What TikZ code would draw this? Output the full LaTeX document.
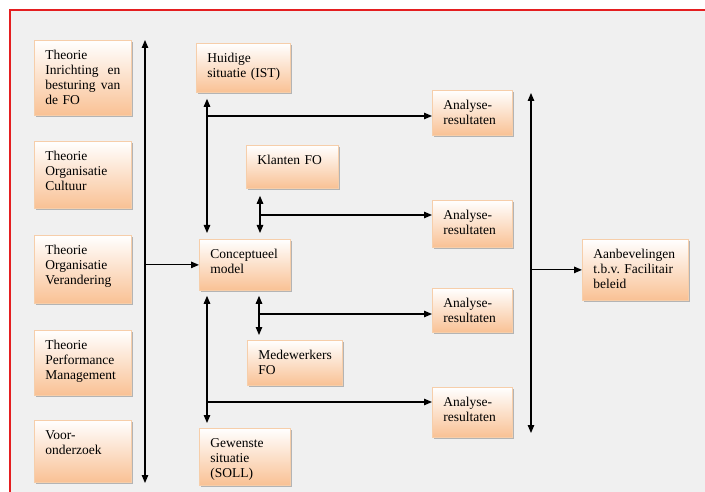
\documentclass[tikz,border=0pt]{standalone}
\usepackage{fontspec}
\setmainfont{Liberation Serif}
\usetikzlibrary{arrows.meta,shadows}
\definecolor{peach}{RGB}{249,193,148}
\definecolor{peachline}{RGB}{246,206,170}
\definecolor{frame}{RGB}{228,30,32}
\definecolor{paper}{RGB}{240,240,240}
\tikzset{
  box/.style={draw=peachline, line width=0.8pt, top color=white, bottom color=peach,
    drop shadow={shadow xshift=2pt, shadow yshift=-2pt, fill=black!45, opacity=0.6},
    anchor=north west, align=left, inner xsep=11pt, inner ysep=2pt,
    text height=17pt, font=\fontsize{13.5}{15}\selectfont\frenchspacing},
  link/.style={line width=1.2pt, {Triangle[length=8pt,width=6.5pt]}-{Triangle[length=8pt,width=6.5pt]}},
  to/.style={line width=1.2pt, -{Triangle[length=8pt,width=6.5pt]}}
}
\begin{document}
\begin{tikzpicture}[x=1pt,y=-1pt]
  \useasboundingbox (0,0) rectangle (705,492);
  \fill[white] (0,0) rectangle (705,492);
  \fill[paper] (10,10) rectangle (705,492);
  \draw[frame, line width=2pt] (10,492) -- (10,10) -- (705,10);
  % theorie
  \node[box, text width=75pt, text depth=54pt] (inr) at (34,40) {Theorie\\Inrichting\hfill en\\besturing\hfill van\\de FO};
  \node[box, text width=75pt, text depth=46pt] (cult) at (34,141) {Theorie\\Organisatie\\Cultuur};
  \node[box, text width=75pt, text depth=47pt] (ver) at (34,235) {Theorie\\Organisatie\\Verandering};
  \node[box, text width=75pt, text depth=44pt] (perf) at (34,330) {Theorie\\Performance\\Management};
  \node[box, text width=75pt, text depth=41pt] (voor) at (34,420) {Voor-\\onderzoek};
  % model
  \node[box, text width=72pt, text depth=28pt] (ist) at (196,43) {Huidige\\situatie~(IST)};
  \node[box, text width=70pt, text depth=22pt] (klant) at (246,145) {Klanten FO};
  \node[box, text width=69pt, text depth=30pt] (model) at (199,239) {Conceptueel\\model};
  \node[box, text width=73pt, text depth=24pt] (medew) at (247,340) {Medewerkers\\FO};
  \node[box, text width=69pt, text depth=36pt] (soll) at (199,428) {Gewenste\\situatie\\(SOLL)};
  % analyse
  \node[box, text width=58pt, text depth=24pt] (res1) at (432,90) {Analyse-\\resultaten};
  \node[box, text width=58pt, text depth=26pt] (res2) at (432,200) {Analyse-\\resultaten};
  \node[box, text width=58pt, text depth=23pt] (res3) at (432,288) {Analyse-\\resultaten};
  \node[box, text width=58pt, text depth=29pt] (res4) at (432,387) {Analyse-\\resultaten};
  \node[box, text width=84pt, text depth=40pt] (adv) at (582,239) {Aanbevelingen\\t.b.v.~Facilitair\\beleid};
  % verbindingen
  \coordinate (ltop) at (145,40);
  \coordinate (lbot) at (145,483);
  \coordinate (rtop) at (531,93);
  \coordinate (rbot) at (531,433);
  \coordinate (j1) at (207,116);
  \coordinate (j2) at (260,215);
  \coordinate (j3) at (259,314);
  \coordinate (j4) at (207,402);
  \draw[link] (ltop) -- (lbot);
  \draw[to] (model.west -| ltop) -- (model.west);
  \draw[link, shorten <=6pt, shorten >=6pt] (ist.south -| j1) -- (model.north -| j1);
  \draw[link, shorten <=7pt, shorten >=6pt] (klant.south -| j2) -- (model.north -| j2);
  \draw[link, shorten <=5pt, shorten >=5pt] (model.south -| j3) -- (medew.north -| j3);
  \draw[link, shorten <=5pt, shorten >=5pt] (model.south -| j4) -- (soll.north -| j4);
  \draw[to] (j1) -- (j1 -| res1.west);
  \draw[to] (j2) -- (j2 -| res2.west);
  \draw[to] (j3) -- (j3 -| res3.west);
  \draw[to] (j4) -- (j4 -| res4.west);
  \draw[link] (rtop) -- (rbot);
  \draw[to] (adv.west -| rtop) -- (adv.west);
\end{tikzpicture}
\end{document}
